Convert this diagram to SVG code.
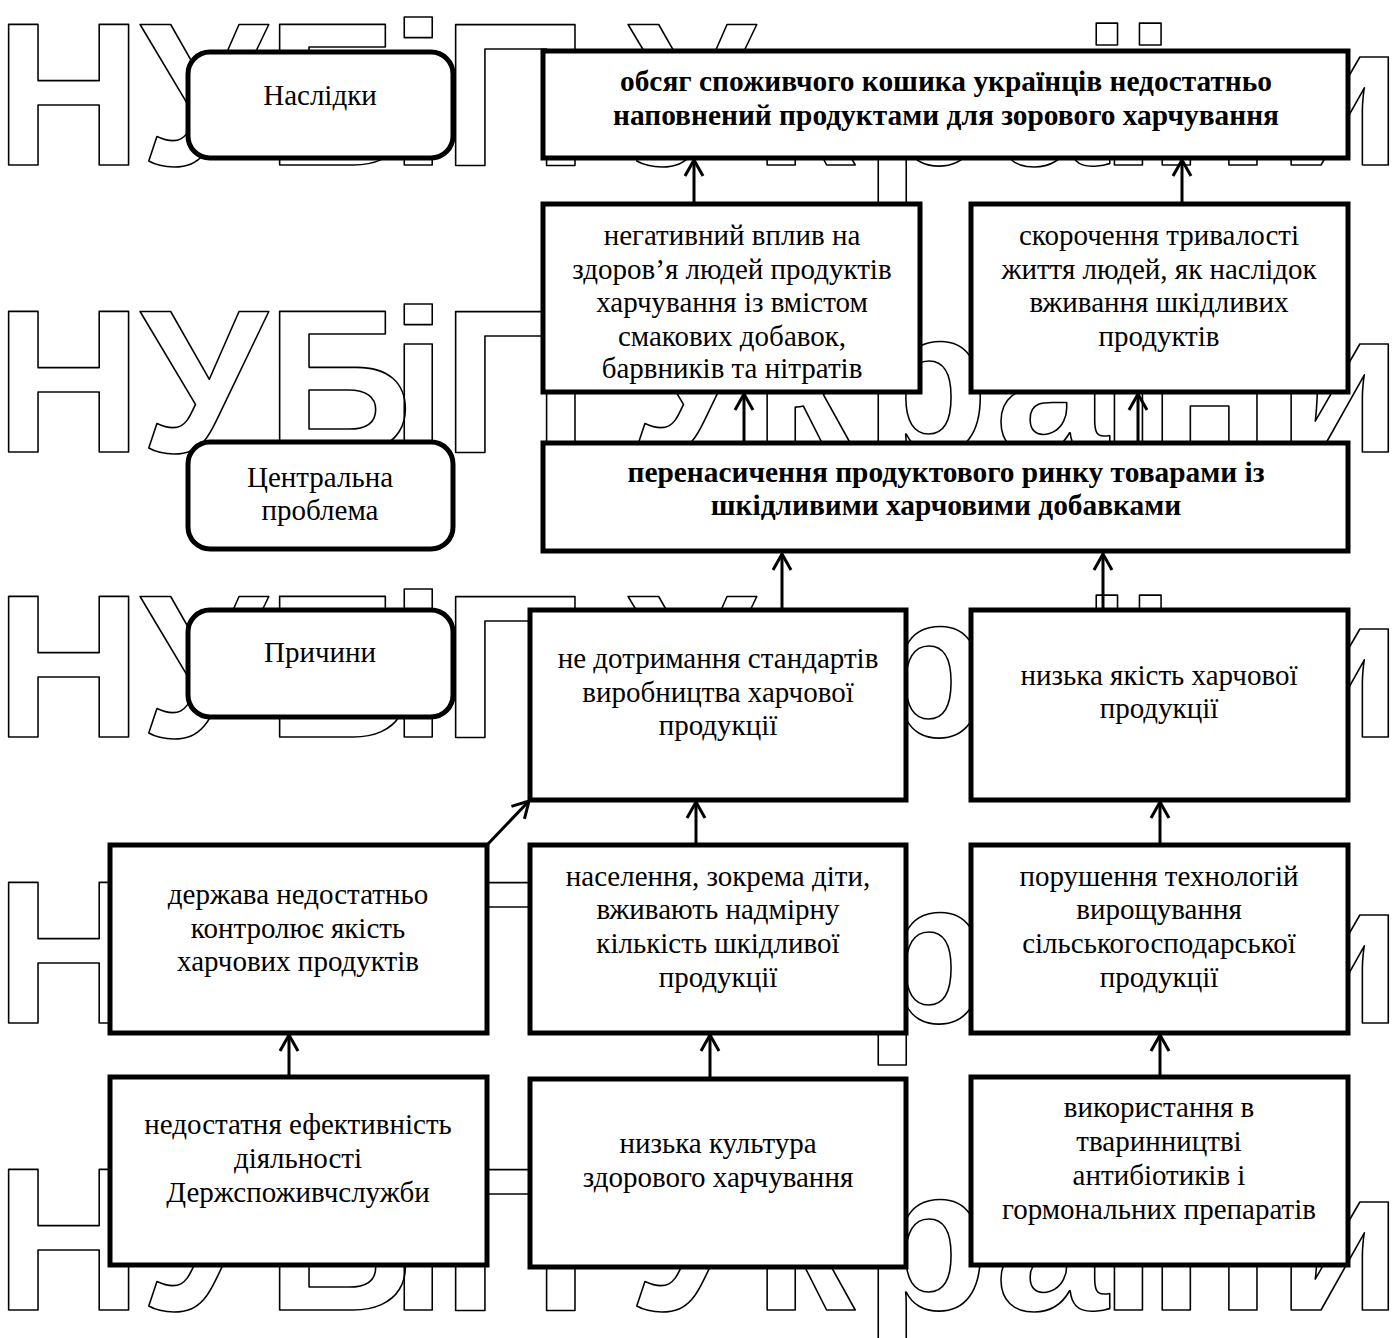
<svg xmlns="http://www.w3.org/2000/svg" width="1392" height="1338" viewBox="0 0 1392 1338">
<style>
.wm{font-family:"Liberation Sans",Arial,sans-serif;font-weight:bold;font-size:204px;fill:none;stroke:#000;stroke-width:1.6;stroke-linejoin:round}
.box{fill:#fff;stroke:#000;stroke-width:5}
.t{font-family:"Liberation Serif","Times New Roman",serif;font-size:29px;text-anchor:middle;fill:#000}
.b{font-weight:bold;font-size:29.4px}
.c{fill:none;stroke:#000;stroke-width:3}
</style>
<defs>
<marker id="ah" markerUnits="userSpaceOnUse" viewBox="-18 -11 20 22" refX="0" refY="0" markerWidth="20" markerHeight="22" orient="auto">
<path d="M-16,-9 L0,0 L-16,9" fill="none" stroke="#000" stroke-width="3"/>
</marker>
</defs>
<rect width="1392" height="1338" fill="#fff"/>
<g id="watermark">
<text class="wm" x="-5 140 266 390 442 590 628 753 864 995 1100 1148 1277" y="165">НУБіП України</text>
<text class="wm" x="-5 140 266 390 442 590 628 753 864 995 1100 1148 1277" y="452">НУБіП України</text>
<text class="wm" x="-5 140 266 390 442 590 628 753 864 995 1100 1148 1277" y="737">НУБіП України</text>
<text class="wm" x="-5 140 266 390 442 590 628 753 864 995 1100 1148 1277" y="1023">НУБіП України</text>
<text class="wm" x="-5 140 266 390 442 590 628 753 864 995 1100 1148 1277" y="1310">НУБіП України</text>
</g>
<g id="connectors">
<line class="c" x1="694" y1="203" x2="694" y2="160" marker-end="url(#ah)"/>
<line class="c" x1="1182" y1="203" x2="1182" y2="160" marker-end="url(#ah)"/>
<line class="c" x1="744" y1="443" x2="744" y2="394" marker-end="url(#ah)"/>
<line class="c" x1="1138" y1="443" x2="1138" y2="394" marker-end="url(#ah)"/>
<line class="c" x1="782" y1="610" x2="782" y2="554" marker-end="url(#ah)"/>
<line class="c" x1="1103" y1="610" x2="1103" y2="554" marker-end="url(#ah)"/>
<line class="c" x1="487" y1="845" x2="529" y2="801" marker-end="url(#ah)"/>
<line class="c" x1="696" y1="845" x2="696" y2="802" marker-end="url(#ah)"/>
<line class="c" x1="1160" y1="845" x2="1160" y2="802" marker-end="url(#ah)"/>
<line class="c" x1="289" y1="1077" x2="289" y2="1035" marker-end="url(#ah)"/>
<line class="c" x1="710" y1="1078" x2="710" y2="1035" marker-end="url(#ah)"/>
<line class="c" x1="1160" y1="1077" x2="1160" y2="1035" marker-end="url(#ah)"/>
</g>
<g id="label-naslidky">
<rect class="box" x="188" y="52" width="265" height="106" rx="22"/>
<text class="t" x="320" y="105">Наслідки</text>
</g>
<g id="consequence-main">
<rect class="box" x="543" y="51" width="805" height="107"/>
<text class="t b" x="946" y="91">обсяг споживчого кошика українців недостатньо</text>
<text class="t b" x="946" y="125">наповнений продуктами для зорового харчування</text>
</g>
<g id="consequence-1">
<rect class="box" x="543" y="204" width="377" height="188"/>
<text class="t" x="732" y="245">негативний вплив на</text>
<text class="t" x="732" y="279">здоров’я людей продуктів</text>
<text class="t" x="732" y="312">харчування із вмістом</text>
<text class="t" x="732" y="346">смакових добавок,</text>
<text class="t" x="732" y="378">барвників та нітратів</text>
</g>
<g id="consequence-2">
<rect class="box" x="971" y="204" width="377" height="188"/>
<text class="t" x="1159" y="245">скорочення тривалості</text>
<text class="t" x="1159" y="279">життя людей, як наслідок</text>
<text class="t" x="1159" y="312">вживання шкідливих</text>
<text class="t" x="1159" y="346">продуктів</text>
</g>
<g id="label-central">
<rect class="box" x="188" y="442" width="265" height="107" rx="22"/>
<text class="t" x="320" y="487">Центральна</text>
<text class="t" x="320" y="520">проблема</text>
</g>
<g id="central-problem">
<rect class="box" x="543" y="443" width="805" height="108"/>
<text class="t b" x="946" y="482">перенасичення продуктового ринку товарами із</text>
<text class="t b" x="946" y="515">шкідливими харчовими добавками</text>
</g>
<g id="label-causes">
<rect class="box" x="188" y="610" width="265" height="107" rx="22"/>
<text class="t" x="320" y="662">Причини</text>
</g>
<g id="cause-standards">
<rect class="box" x="530" y="610" width="376" height="190"/>
<text class="t" x="718" y="668">не дотримання стандартів</text>
<text class="t" x="718" y="702">виробництва харчової</text>
<text class="t" x="718" y="735">продукції</text>
</g>
<g id="cause-quality">
<rect class="box" x="971" y="610" width="377" height="190"/>
<text class="t" x="1159" y="685">низька якість харчової</text>
<text class="t" x="1159" y="718">продукції</text>
</g>
<g id="cause-state">
<rect class="box" x="110" y="845" width="377" height="188"/>
<text class="t" x="298" y="904">держава недостатньо</text>
<text class="t" x="298" y="938">контролює якість</text>
<text class="t" x="298" y="971">харчових продуктів</text>
</g>
<g id="cause-population">
<rect class="box" x="530" y="845" width="376" height="188"/>
<text class="t" x="718" y="886">населення, зокрема діти,</text>
<text class="t" x="718" y="919">вживають надмірну</text>
<text class="t" x="718" y="953">кількість шкідливої</text>
<text class="t" x="718" y="987">продукції</text>
</g>
<g id="cause-technology">
<rect class="box" x="971" y="845" width="377" height="188"/>
<text class="t" x="1159" y="886">порушення технологій</text>
<text class="t" x="1159" y="919">вирощування</text>
<text class="t" x="1159" y="953">сільськогосподарської</text>
<text class="t" x="1159" y="987">продукції</text>
</g>
<g id="cause-efficiency">
<rect class="box" x="110" y="1077" width="377" height="188"/>
<text class="t" x="298" y="1134">недостатня ефективність</text>
<text class="t" x="298" y="1168">діяльності</text>
<text class="t" x="298" y="1202">Держспоживчслужби</text>
</g>
<g id="cause-culture">
<rect class="box" x="530" y="1079" width="376" height="188"/>
<text class="t" x="718" y="1153">низька культура</text>
<text class="t" x="718" y="1187">здорового харчування</text>
</g>
<g id="cause-antibiotics">
<rect class="box" x="971" y="1077" width="377" height="188"/>
<text class="t" x="1159" y="1117">використання в</text>
<text class="t" x="1159" y="1151">тваринництві</text>
<text class="t" x="1159" y="1185">антибіотиків і</text>
<text class="t" x="1159" y="1219">гормональних препаратів</text>
</g>
</svg>
